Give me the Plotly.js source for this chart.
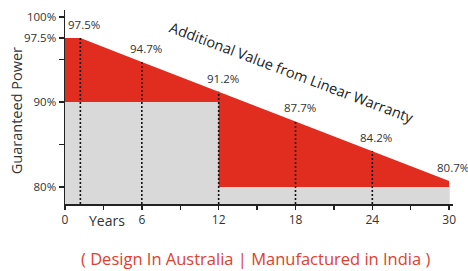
<!DOCTYPE html>
<html>
<head>
<meta charset="utf-8">
<script src="https://cdn.plot.ly/plotly-3.0.1.min.js"></script>
<style>html,body{margin:0;padding:0;background:#fff;}#chart{width:468px;height:271px;}</style>
</head>
<body>
<div id="chart"></div>
<script>
// ---- data ----
const years = [0, 1.2, 6, 12, 18, 24, 30];
const linearValue = [97.5, 97.5, 94.7, 91.2, 87.7, 84.2, 80.7];
const stepYears = [0, 12, 12, 30];
const stepValue = [90, 90, 80, 80];
const markYears = [1.2, 6, 12, 18, 24, 30];
const markValue = [97.5, 94.7, 91.2, 87.7, 84.2, 80.7];
const dottedYears = [1.2, 6, 12, 18, 24];
const dottedValue = [97.5, 94.7, 91.2, 87.7, 84.2];
const xTickVals = [0, 3, 6, 9, 12, 15, 18, 21, 24, 27, 30];
const xTickText = ['0', '', '6', '', '12', '', '18', '', '24', '', '30'];
const yTickVals = [80, 85, 90, 95, 97.5, 100];
const yTickText = ['80%', '', '90%', '', '97.5%', '100%'];

const RED = '#e02d1f';
const GRAY = '#d9d9d9';
const FONT = 'Open Sans, Noto Sans, sans-serif';
const yMin = 78, yMax = 100.8;

const traces = [
  {x: years, y: linearValue, type: 'scatter', mode: 'lines', fill: 'tozeroy',
   fillcolor: RED, line: {width: 0, color: RED}, hoverinfo: 'skip'},
  {x: stepYears, y: stepValue, type: 'scatter', mode: 'lines', fill: 'tozeroy',
   fillcolor: GRAY, line: {width: 0, color: GRAY}, hoverinfo: 'skip'}
];
dottedYears.forEach((yr, i) => {
  traces.push({x: [yr, yr], y: [yMin, dottedValue[i]], type: 'scatter', mode: 'lines',
    line: {color: '#111', width: 1.6, dash: '2px,2px'}, hoverinfo: 'skip'});
});

const annotations = markYears.map((yr, i) => ({
  x: yr, y: markValue[i], xref: 'x', yref: 'y', text: markValue[i].toFixed(1) + '%',
  showarrow: false, xanchor: 'center', yanchor: 'bottom', xshift: 4, yshift: 4,
  font: {family: FONT, size: 11.5, color: '#333'}
}));
annotations.push(
  {x: 0.108, y: -0.085, xref: 'paper', yref: 'paper', text: 'Years', showarrow: false,
   xanchor: 'center', yanchor: 'middle', font: {family: FONT, size: 14, color: '#333'}},
  {x: -0.126, y: 0.479, xref: 'paper', yref: 'paper', text: 'Guaranteed Power', showarrow: false,
   textangle: -90, xanchor: 'center', yanchor: 'middle', font: {family: FONT, size: 14.5, color: '#333'}},
  {x: 0.585, y: 0.68, xref: 'paper', yref: 'paper', text: 'Additional Value from Linear Warranty',
   showarrow: false, textangle: 20.7, xanchor: 'center', yanchor: 'middle',
   font: {family: FONT, size: 14.5, color: '#222'}},
  {x: 0.49, y: -0.2835, xref: 'paper', yref: 'paper',
   text: '( Design In Australia | Manufactured in India )', showarrow: false,
   xanchor: 'center', yanchor: 'middle', font: {family: FONT, size: 16.5, color: '#e0402f'}}
);

const layout = {
  width: 468, height: 271,
  margin: {l: 65, r: 15, t: 10, b: 67},
  paper_bgcolor: '#fff', plot_bgcolor: '#fff',
  showlegend: false,
  xaxis: {range: [0, 30.3], tickvals: xTickVals, ticktext: xTickText, ticks: 'outside',
    ticklen: 4, tickwidth: 1.5, tickcolor: '#222', showline: true, linecolor: '#222',
    linewidth: 1.5, showgrid: false, zeroline: false, fixedrange: true,
    tickfont: {family: FONT, size: 12, color: '#333'}},
  yaxis: {range: [yMin, yMax], tickvals: yTickVals, ticktext: yTickText, ticks: 'outside',
    ticklen: 5, tickwidth: 1.5, tickcolor: '#222', showline: true, linecolor: '#222',
    linewidth: 1.5, showgrid: false, zeroline: false, fixedrange: true,
    tickfont: {family: FONT, size: 11.5, color: '#333'}},
  annotations: annotations
};

Plotly.newPlot('chart', traces, layout, {displayModeBar: false, staticPlot: true});
</script>
</body>
</html>
